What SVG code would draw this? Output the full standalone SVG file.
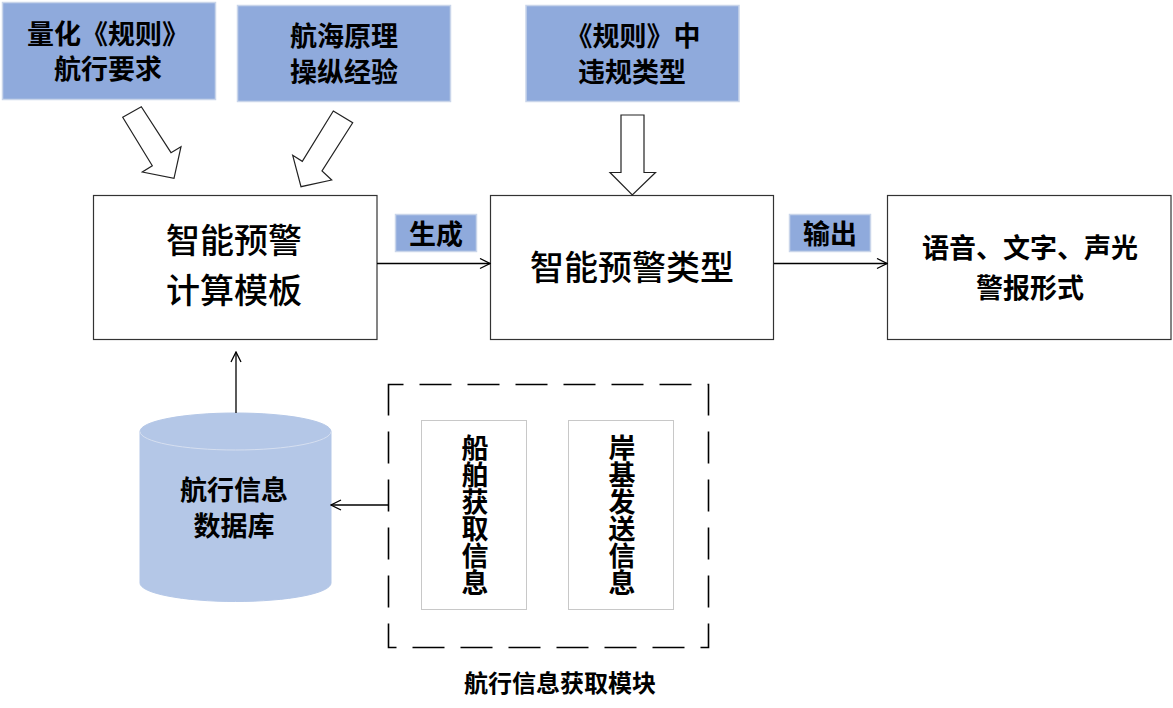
<svg xmlns="http://www.w3.org/2000/svg" width="1173" height="708" viewBox="0 0 1173 708">
<defs>
<style>
.bluebox{fill:#8faadc;stroke:#c9d5ea;stroke-width:1.5}
.box{fill:#fff;stroke:#333;stroke-width:1.2}
.inner{fill:#fff;stroke:#c8c8c8;stroke-width:1}
.hollow{fill:#fff;stroke:#222;stroke-width:1.2;stroke-linejoin:miter}
.line{fill:none;stroke:#000;stroke-width:1.3}
.t{font-family:"Noto Sans CJK SC","Noto Sans CJK TC",sans-serif;fill:#000;text-anchor:middle}
.b27{font-size:27px;font-weight:bold}
.r34{font-size:34px;font-weight:500}
.b24{font-size:24px;font-weight:bold}
.vert{writing-mode:vertical-rl;font-size:27px;font-weight:bold}
</style>
<marker id="open" viewBox="0 0 12 12" refX="11" refY="6" markerWidth="12" markerHeight="12" markerUnits="userSpaceOnUse" orient="auto">
<path d="M1,1 L11,6 L1,11" fill="none" stroke="#000" stroke-width="1.3"/>
</marker>
</defs>

<g id="node-rules">
<rect class="bluebox" x="2.5" y="2.5" width="213" height="97"/>
<text class="t b27" x="108" y="43.5">量化《规则》</text>
<text class="t b27" x="108" y="79">航行要求</text>
</g>
<g id="node-principle">
<rect class="bluebox" x="237.5" y="5.5" width="213" height="96"/>
<text class="t b27" x="344" y="46">航海原理</text>
<text class="t b27" x="344" y="82">操纵经验</text>
</g>
<g id="node-violation">
<rect class="bluebox" x="526" y="5.5" width="213" height="96"/>
<text class="t b27" x="633" y="46">《规则》中</text>
<text class="t b27" x="632" y="82">违规类型</text>
</g>

<g id="node-template">
<rect class="box" x="93.5" y="195.5" width="283.5" height="144"/>
<text class="t r34" x="234" y="253">智能预警</text>
<text class="t r34" x="234" y="303">计算模板</text>
</g>
<g id="node-type">
<rect class="box" x="490.5" y="195.5" width="283" height="144"/>
<text class="t r34" x="632" y="280">智能预警类型</text>
</g>
<g id="node-output">
<rect class="box" x="887.5" y="195.5" width="283.5" height="144"/>
<text class="t b27" x="1030" y="258">语音、文字、声光</text>
<text class="t b27" x="1030" y="298">警报形式</text>
</g>

<g id="node-database">
<path d="M140,431.5 L140,583 A95.5,18.5 0 0 0 331,583 L331,431.5 A95.5,18.5 0 0 0 140,431.5 Z" fill="#b4c7e7" stroke="#b4c7e7"/>
<path d="M140,431.5 A95.5,18.5 0 0 0 331,431.5" fill="none" stroke="#d6dff0" stroke-width="1"/>
<text class="t b27" x="234" y="499.5">航行信息</text>
<text class="t b27" x="234" y="536">数据库</text>
</g>

<g id="node-module">
<rect x="388.5" y="384.5" width="320" height="263" fill="none" stroke="#000" stroke-width="1.6" stroke-dasharray="32,16" stroke-dashoffset="17"/>
<text class="t b24" x="560" y="692">航行信息获取模块</text>
</g>
<g id="node-ship">
<rect class="inner" x="421.5" y="420.5" width="105" height="189"/>
<text class="t vert" x="475" y="515">船舶获取信息</text>
</g>
<g id="node-shore">
<rect class="inner" x="568.5" y="420.5" width="105" height="189"/>
<text class="t vert" x="622" y="515">岸基发送信息</text>
</g>

<g id="connectors">
<polygon class="hollow" points="122.7,117.3 141.3,106.7 171,152.7 181,146.7 174,178.3 142.3,172 152.3,165.7"/>
<polygon class="hollow" points="333.3,111 352.7,122.7 322,171 331.7,180 301,186.7 292.7,155.3 302.3,161.3"/>
<polygon class="hollow" points="621,115 644,115 644,172.5 655.5,172.5 632.3,195 610,172.5 621,172.5"/>
<line class="line" x1="377" y1="263.5" x2="490" y2="263.5" marker-end="url(#open)"/>
<line class="line" x1="774" y1="263.5" x2="887" y2="263.5" marker-end="url(#open)"/>
<line class="line" x1="236" y1="413" x2="236" y2="352" marker-end="url(#open)"/>
<line class="line" x1="388" y1="505" x2="331" y2="505" marker-end="url(#open)"/>
<g id="label-generate">
<rect x="395.5" y="214.5" width="81" height="37" fill="#8faadc" stroke="#c9d5ea" stroke-width="1.5"/>
<text class="t b27" x="436" y="244">生成</text>
</g>
<g id="label-output">
<rect x="789.5" y="214.5" width="81" height="37" fill="#8faadc" stroke="#c9d5ea" stroke-width="1.5"/>
<text class="t b27" x="830" y="244">输出</text>
</g>
</g>
</svg>
